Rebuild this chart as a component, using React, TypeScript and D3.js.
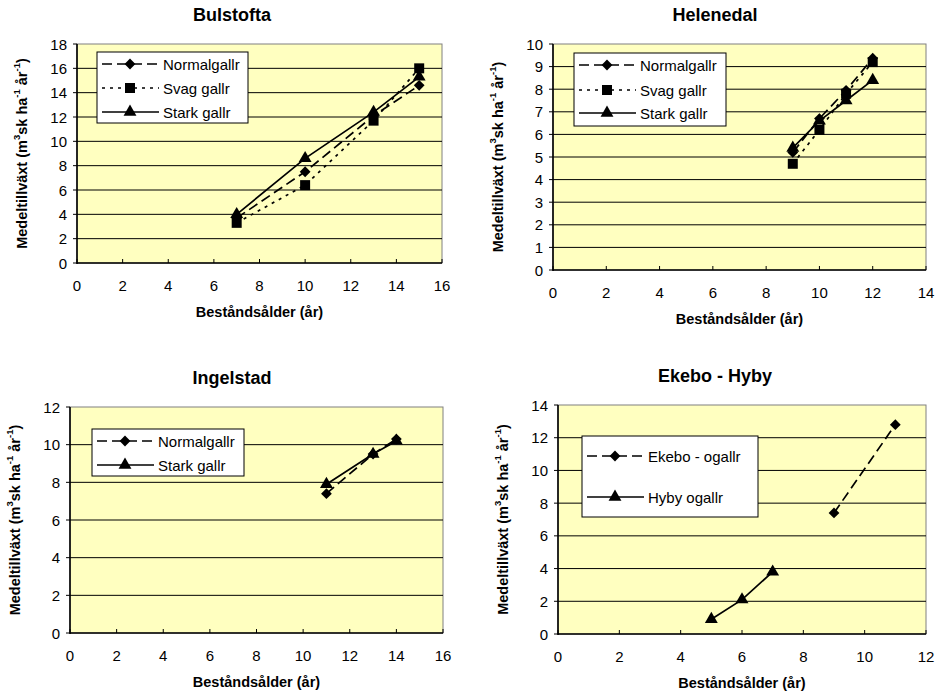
import * as d3 from 'd3';

// Bulstofta
const bulstoftaAge = [7, 10, 13, 15];
const bulstoftaNormal = [3.7, 7.5, 12.1, 14.6];
const bulstoftaSvag = [3.3, 6.4, 11.7, 16.0];
const bulstoftaStark = [4.0, 8.6, 12.4, 15.3];

// Helenedal
const helenedalAge = [9, 10, 11, 12];
const helenedalNormal = [5.2, 6.7, 7.95, 9.37];
const helenedalSvag = [4.7, 6.2, 7.8, 9.2];
const helenedalStark = [5.4, 6.6, 7.5, 8.4];

// Ingelstad
const ingelstadAge = [11, 13, 14];
const ingelstadNormal = [7.4, 9.5, 10.3];
const ingelstadStark = [7.9, 9.5, 10.2];

// Ekebo - Hyby
const ekeboAge = [9, 11];
const ekeboOgallr = [7.4, 12.8];
const hybyAge = [5, 6, 7];
const hybyOgallr = [0.9, 2.1, 3.8];

const xLabel = 'Beståndsålder (år)';

type Kind = 'normal' | 'svag' | 'stark';

interface Series {
  name: string;
  kind: Kind;
  x: number[];
  y: number[];
}

interface PanelDef {
  title: string;
  xMax: number;
  yMax: number;
  yStep: number;
  series: Series[];
  plot: { left: number; right: number; top: number; bottom: number };
  titleX: number;
  legend: { x: number; y: number; w: number; h: number; rows: number[] };
}

const styles: Record<Kind, { dash: string | null; marker: 'diamond' | 'square' | 'triangle' }> = {
  normal: { dash: '10,5', marker: 'diamond' },
  svag: { dash: '3,5', marker: 'square' },
  stark: { dash: null, marker: 'triangle' },
};

const panels: PanelDef[] = [
  {
    title: 'Bulstofta',
    xMax: 16, yMax: 18, yStep: 2,
    series: [
      { name: 'Normalgallr', kind: 'normal', x: bulstoftaAge, y: bulstoftaNormal },
      { name: 'Svag gallr', kind: 'svag', x: bulstoftaAge, y: bulstoftaSvag },
      { name: 'Stark gallr', kind: 'stark', x: bulstoftaAge, y: bulstoftaStark },
    ],
    plot: { left: 77, right: 442, top: 44, bottom: 263 },
    titleX: 232,
    legend: { x: 97, y: 52, w: 151, h: 71, rows: [64, 88, 112] },
  },
  {
    title: 'Helenedal',
    xMax: 14, yMax: 10, yStep: 1,
    series: [
      { name: 'Normalgallr', kind: 'normal', x: helenedalAge, y: helenedalNormal },
      { name: 'Svag gallr', kind: 'svag', x: helenedalAge, y: helenedalSvag },
      { name: 'Stark gallr', kind: 'stark', x: helenedalAge, y: helenedalStark },
    ],
    plot: { left: 553, right: 926, top: 44, bottom: 270 },
    titleX: 715,
    legend: { x: 574, y: 53, w: 152, h: 73, rows: [65, 90, 113] },
  },
  {
    title: 'Ingelstad',
    xMax: 16, yMax: 12, yStep: 2,
    series: [
      { name: 'Normalgallr', kind: 'normal', x: ingelstadAge, y: ingelstadNormal },
      { name: 'Stark gallr', kind: 'stark', x: ingelstadAge, y: ingelstadStark },
    ],
    plot: { left: 70, right: 443, top: 407, bottom: 633 },
    titleX: 232,
    legend: { x: 92, y: 429, w: 152, h: 47, rows: [441, 465] },
  },
  {
    title: 'Ekebo - Hyby',
    xMax: 12, yMax: 14, yStep: 2,
    series: [
      { name: 'Ekebo - ogallr', kind: 'normal', x: ekeboAge, y: ekeboOgallr },
      { name: 'Hyby ogallr', kind: 'stark', x: hybyAge, y: hybyOgallr },
    ],
    plot: { left: 558, right: 926, top: 405, bottom: 634 },
    titleX: 715,
    legend: { x: 582, y: 436, w: 176, h: 81, rows: [456, 497] },
  },
];

const font = '"Liberation Sans", Arial, sans-serif';

function markerPath(m: 'diamond' | 'square' | 'triangle') {
  if (m === 'square') return d3.symbol(d3.symbolSquare, 100)()!;
  if (m === 'triangle') return d3.symbol(d3.symbolTriangle, 72)()!;
  return d3.symbol(d3.symbolSquare, 58)()!;
}

function Marker({ m, x, y }: { m: 'diamond' | 'square' | 'triangle'; x: number; y: number }) {
  const rot = m === 'diamond' ? ' rotate(45)' : '';
  return <path d={markerPath(m)} transform={`translate(${x},${y})${rot}`} fill="#000" />;
}

function Panel({ p }: { p: PanelDef }) {
  const { left, right, top, bottom } = p.plot;
  const x = d3.scaleLinear().domain([0, p.xMax]).range([left, right]);
  const y = d3.scaleLinear().domain([0, p.yMax]).range([bottom, top]);
  const xTicks = d3.range(0, p.xMax + 0.001, 2);
  const yTicks = d3.range(0, p.yMax + 0.001, p.yStep);
  const line = d3.line<[number, number]>().x(d => x(d[0])).y(d => y(d[1]));
  const midY = (top + bottom) / 2;
  const lg = p.legend;

  return (
    <g fontFamily={font}>
      <text x={p.titleX} y={top - 29} textAnchor="middle" dominantBaseline="central"
        fontSize={18} fontWeight="bold">{p.title}</text>

      <rect x={left} y={top} width={right - left} height={bottom - top} fill="#FFFFC0"
        stroke="#808080" strokeWidth={1} />

      {yTicks.filter(t => t > 0 && t < p.yMax).map(t => (
        <line key={`g${t}`} x1={left} x2={right} y1={y(t)} y2={y(t)} stroke="#000" strokeWidth={1} />
      ))}
      {yTicks.map(t => (
        <line key={`yt${t}`} x1={left - 4} x2={left} y1={y(t)} y2={y(t)} stroke="#000" strokeWidth={1} />
      ))}
      {xTicks.map(t => (
        <line key={`xt${t}`} x1={x(t)} x2={x(t)} y1={bottom} y2={bottom - 4} stroke="#000" strokeWidth={1} />
      ))}
      <line x1={left} x2={left} y1={top} y2={bottom + 1} stroke="#000" strokeWidth={1.6} />
      <line x1={left} x2={right} y1={bottom} y2={bottom} stroke="#000" strokeWidth={1.6} />

      {yTicks.map(t => (
        <text key={`yl${t}`} x={left - 10} y={y(t)} textAnchor="end" dominantBaseline="central"
          fontSize={15}>{t}</text>
      ))}
      {xTicks.map(t => (
        <text key={`xl${t}`} x={x(t)} y={bottom + 22} textAnchor="middle" dominantBaseline="central"
          fontSize={15}>{t}</text>
      ))}

      <text x={(left + right) / 2} y={bottom + 49} textAnchor="middle" dominantBaseline="central"
        fontSize={14.5} fontWeight="bold">{xLabel}</text>
      <text transform={`translate(${left - 55},${midY}) rotate(-90)`} textAnchor="middle"
        dominantBaseline="central" fontSize={14.5} fontWeight="bold">
        Medeltillväxt (m<tspan fontSize={9.5} dy={-6}>3</tspan><tspan dy={6}>sk ha</tspan>
        <tspan fontSize={9.5} dy={-6}>-1</tspan><tspan dy={6}> år</tspan>
        <tspan fontSize={9.5} dy={-6}>-1</tspan><tspan dy={6}>)</tspan>
      </text>

      {p.series.map(s => {
        const st = styles[s.kind];
        const pts = s.x.map((v, i) => [v, s.y[i]] as [number, number]);
        return (
          <g key={s.name}>
            <path d={line(pts)!} fill="none" stroke="#000" strokeWidth={1.7}
              strokeDasharray={st.dash ?? undefined} />
            {pts.map((d, i) => <Marker key={i} m={st.marker} x={x(d[0])} y={y(d[1])} />)}
          </g>
        );
      })}

      <rect x={lg.x} y={lg.y} width={lg.w} height={lg.h} fill="#fff" stroke="#000" strokeWidth={1} />
      {p.series.map((s, i) => {
        const st = styles[s.kind];
        const ry = lg.rows[i];
        return (
          <g key={`lg${s.name}`}>
            <line x1={lg.x + 5} x2={lg.x + 62} y1={ry} y2={ry} stroke="#000" strokeWidth={1.7}
              strokeDasharray={st.dash ?? undefined} />
            <Marker m={st.marker} x={lg.x + 33} y={ry} />
            <text x={lg.x + 66} y={ry} dominantBaseline="central" fontSize={15}>{s.name}</text>
          </g>
        );
      })}
    </g>
  );
}

export default function App() {
  return (
    <div style={{ position: 'absolute', left: 0, top: 0 }}>
      <svg width={937} height={695} style={{ display: 'block', background: '#fff' }}>
        {panels.map(p => <Panel key={p.title} p={p} />)}
      </svg>
    </div>
  );
}
